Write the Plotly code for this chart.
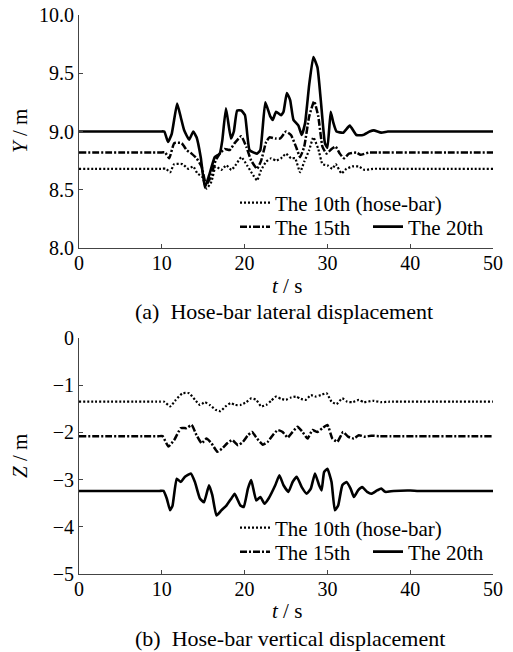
import plotly.graph_objects as go

# ---------------- data: (a) lateral displacement Y ----------------
t10a = [0, 9.9, 10.5, 11.0, 11.5, 12.5, 13.2, 13.8, 14.3, 14.9, 15.4, 16.0, 16.5, 17.2, 17.8, 18.4, 19.0, 19.6, 20.3, 20.9, 21.5, 22.0, 22.6, 23.2, 23.8, 24.4, 25.0, 25.6, 26.1, 26.7, 27.2, 27.8, 28.3, 28.9, 29.4, 30.0, 30.6, 31.0, 31.7, 32.3, 33.0, 33.8, 34.5, 35.5, 36.5, 50]
y10a = [8.68, 8.68, 8.68, 8.65, 8.72, 8.72, 8.68, 8.70, 8.64, 8.61, 8.51, 8.57, 8.70, 8.67, 8.71, 8.67, 8.72, 8.78, 8.71, 8.64, 8.58, 8.67, 8.74, 8.77, 8.75, 8.77, 8.81, 8.77, 8.77, 8.65, 8.74, 8.84, 8.95, 8.85, 8.72, 8.71, 8.68, 8.72, 8.64, 8.68, 8.70, 8.70, 8.67, 8.68, 8.68, 8.68]

t15a = [0, 9.8, 10.4, 10.9, 11.5, 12.4, 13.0, 13.6, 14.2, 14.8, 15.35, 15.9, 16.5, 17.0, 17.6, 18.2, 18.8, 19.6, 20.2, 20.8, 21.5, 22.0, 22.6, 23.0, 23.7, 24.3, 25.0, 25.6, 26.2, 26.7, 27.2, 27.8, 28.4, 28.9, 29.4, 29.9, 30.5, 31.0, 31.5, 32.0, 32.6, 33.5, 34.0, 35.0, 36.0, 50]
y15a = [8.82, 8.82, 8.82, 8.77, 8.90, 8.90, 8.84, 8.81, 8.77, 8.70, 8.54, 8.61, 8.75, 8.81, 8.85, 8.84, 8.90, 8.96, 8.87, 8.75, 8.68, 8.75, 8.91, 8.95, 8.94, 8.94, 9.0, 8.97, 8.87, 8.78, 8.87, 9.13, 9.26, 9.13, 8.87, 8.81, 8.85, 8.87, 8.81, 8.77, 8.81, 8.82, 8.80, 8.82, 8.82, 8.82]

t20a = [0, 9.8, 10.3, 10.75, 11.2, 11.85, 12.3, 12.7, 13.3, 13.8, 14.2, 14.7, 15.2, 15.7, 16.4, 17.0, 17.3, 17.75, 18.35, 18.7, 19.1, 19.6, 20.05, 20.6, 21.5, 21.9, 22.5, 23.1, 23.4, 23.8, 24.4, 24.7, 25.1, 25.5, 25.9, 26.5, 26.9, 27.3, 27.8, 28.3, 28.8, 29.2, 29.7, 30.0, 30.4, 30.7, 31.1, 31.9, 32.7, 33.5, 34.3, 35.1, 35.6, 36.5, 37.3, 38.0, 50]
y20a = [9.0, 9.0, 9.0, 8.91, 8.98, 9.24, 9.12, 9.01, 8.93, 9.0, 8.95, 8.78, 8.52, 8.62, 8.78, 8.81, 8.92, 9.20, 8.94, 9.0, 9.18, 9.18, 9.14, 8.84, 8.81, 8.84, 9.25, 9.13, 9.10, 9.17, 9.14, 9.17, 9.33, 9.27, 9.10, 9.05, 8.97, 9.07, 9.40, 9.64, 9.55, 9.27, 8.90, 8.86, 9.17, 9.08, 9.0, 8.99, 9.05, 8.97, 8.97, 9.0, 9.01, 8.99, 9.0, 9.0, 9.0]

# ---------------- data: (b) vertical displacement Z ----------------
t10b = [0, 9.7, 10.3, 11.0, 11.7, 12.5, 13.3, 14.0, 14.6, 15.2, 15.8, 16.5, 17.1, 17.7, 18.3, 18.9, 19.5, 20.2, 20.8, 21.4, 22.0, 22.6, 23.2, 23.8, 24.4, 25.0, 25.6, 26.2, 26.8, 27.4, 28.0, 28.6, 29.2, 29.9, 30.5, 31.1, 31.8, 32.4, 33.0, 33.8, 34.4, 35.5, 36.5, 37.5, 50]
y10b = [-1.35, -1.35, -1.35, -1.45, -1.31, -1.17, -1.17, -1.31, -1.42, -1.36, -1.42, -1.52, -1.55, -1.45, -1.38, -1.42, -1.42, -1.36, -1.28, -1.31, -1.45, -1.42, -1.33, -1.24, -1.29, -1.31, -1.26, -1.24, -1.29, -1.31, -1.21, -1.24, -1.21, -1.17, -1.35, -1.40, -1.28, -1.35, -1.36, -1.31, -1.36, -1.33, -1.36, -1.35, -1.35]

t15b = [0, 9.6, 10.1, 10.8, 11.5, 12.3, 13.0, 13.6, 14.2, 14.8, 15.4, 16.0, 16.7, 17.3, 17.9, 18.5, 19.2, 19.8, 20.4, 20.9, 21.5, 22.2, 22.8, 23.4, 24.0, 24.6, 25.2, 25.8, 26.4, 27.0, 27.6, 28.2, 28.8, 29.4, 30.0, 30.6, 31.2, 31.9, 32.5, 33.2, 33.8, 34.5, 35.3, 36.3, 50]
y15b = [-2.08, -2.08, -2.08, -2.30, -2.16, -1.91, -1.91, -1.84, -2.06, -2.23, -2.13, -2.23, -2.41, -2.34, -2.23, -2.16, -2.27, -2.20, -2.06, -1.99, -2.13, -2.26, -2.20, -2.06, -1.95, -1.99, -2.11, -1.99, -1.88, -1.99, -2.13, -1.95, -1.99, -1.91, -1.84, -2.13, -2.20, -1.99, -2.09, -2.13, -2.06, -2.09, -2.07, -2.08, -2.08]

t20b = [0, 9.7, 10.2, 10.6, 11.0, 11.3, 11.8, 12.3, 12.8, 13.5, 14.0, 14.6, 15.1, 15.7, 16.1, 16.6, 17.2, 17.8, 18.4, 18.8, 19.5, 19.9, 20.4, 20.8, 21.4, 21.9, 22.4, 22.9, 23.7, 24.2, 24.7, 25.3, 25.8, 26.3, 26.9, 27.5, 28.0, 28.5, 29.0, 29.3, 29.6, 30.0, 30.5, 30.9, 31.3, 31.8, 32.3, 32.8, 33.2, 33.7, 34.2, 34.8, 35.3, 36.0, 36.5, 37.0, 38.0, 40.0, 41.0, 50]
y20b = [-3.24, -3.24, -3.24, -3.40, -3.65, -3.55, -2.98, -3.05, -2.94, -2.87, -3.05, -3.40, -3.48, -3.12, -3.33, -3.76, -3.65, -3.55, -3.40, -3.30, -3.55, -3.58, -3.19, -3.01, -3.44, -3.37, -3.51, -3.40, -3.12, -2.91, -3.12, -3.26, -3.05, -2.94, -3.16, -3.30, -3.19, -2.87, -3.12, -3.23, -2.84, -2.77, -3.05, -3.65, -3.55, -3.12, -3.05, -3.19, -3.37, -3.23, -3.16, -3.26, -3.30, -3.23, -3.19, -3.26, -3.24, -3.23, -3.24, -3.24]

names = ["The 10th (hose-bar)", "The 15th", "The 20th"]
captions = ["(a)\u00a0\u00a0Hose-bar lateral displacement", "(b)\u00a0\u00a0Hose-bar vertical displacement"]
xtitle = "<i>t</i> / s"
ytitles = ["<i>Y</i> / m", "<i>Z</i> / m"]

FONT = "Times New Roman, Liberation Serif, serif"
styles = [dict(dash="2px,2px", width=2.2), dict(dash="7px,2px,2px,2px", width=2.5), dict(dash="solid", width=2.6)]

fig = go.Figure()
series_a = [(t10a, y10a), (t15a, y15a), (t20a, y20a)]
series_b = [(t10b, y10b), (t15b, y15b), (t20b, y20b)]
for i, (tt, yy) in enumerate(series_a):
    fig.add_trace(go.Scatter(x=tt, y=yy, mode="lines", name=names[i], xaxis="x", yaxis="y",
                             showlegend=True,
                             line=dict(color="black", **styles[i]), line_shape="spline",
                             line_smoothing=0.4, legend="legend" if i == 0 else f"legend{i+1}"))
for i, (tt, yy) in enumerate(series_b):
    fig.add_trace(go.Scatter(x=tt, y=yy, mode="lines", name=names[i], xaxis="x2", yaxis="y2",
                             showlegend=True,
                             line=dict(color="black", **styles[i]), line_shape="spline",
                             line_smoothing=0.4, legend=f"legend{i+4}"))

W, H = 513, 652
ml, mr, mt, mb = 79, 20, 15, 78
ph = H - mt - mb
def py(px):
    return (H - mb - px) / ph
def px_x(px):
    return (px - ml) / (W - ml - mr)

axis_common = dict(showline=True, linecolor="#444", linewidth=1, ticks="inside", ticklen=4,
                   tickcolor="#444", showgrid=False, zeroline=False, automargin=False,
                   tickfont=dict(family=FONT, size=20, color="black"))

leg_common = dict(bgcolor="rgba(0,0,0,0)", font=dict(family=FONT, size=21, color="black"),
                  xanchor="left", yanchor="middle", orientation="v", visible=True)
legpos = {
    "legend": (235, 203), "legend2": (235, 227), "legend3": (368, 227),
    "legend4": (235, 528), "legend5": (235, 552), "legend6": (368, 552),
}
legends = {k: dict(x=px_x(v[0]), y=py(v[1]), **leg_common) for k, v in legpos.items()}

def ann(text, x, y, size=21, angle=0, xanchor="center"):
    return dict(text=text, xref="paper", yref="paper", x=px_x(x), y=py(y), xanchor=xanchor,
                yanchor="middle", showarrow=False, textangle=angle,
                font=dict(family=FONT, size=size, color="black"))

fig.update_layout(
    width=W, height=H, margin=dict(l=ml, r=mr, t=mt, b=mb),
    paper_bgcolor="white", plot_bgcolor="white", showlegend=True,
    font=dict(family=FONT, size=20, color="black"),
    xaxis=dict(domain=[0, 1], range=[0, 50], dtick=10, anchor="y", ticklabelstandoff=-3, **axis_common),
    yaxis=dict(domain=[py(248), py(15)], range=[8, 10], dtick=0.5, tickformat=".1f", anchor="x", **axis_common),
    xaxis2=dict(domain=[0, 1], range=[0, 50], dtick=10, anchor="y2", ticklabelstandoff=-3, **axis_common),
    yaxis2=dict(domain=[0, py(338)], range=[-5, 0], dtick=1, anchor="x2", **axis_common),
    **legends,
    annotations=[
        ann(xtitle, 287, 286),
        ann(xtitle, 287, 611),
        ann(ytitles[0], 20, 131, angle=-90),
        ann(ytitles[1], 20, 456, angle=-90),
        ann(captions[0], 133, 311, size=22, xanchor="left"),
        ann(captions[1], 133, 638, size=22, xanchor="left"),
    ],
)

fig.write_html("out.html")
